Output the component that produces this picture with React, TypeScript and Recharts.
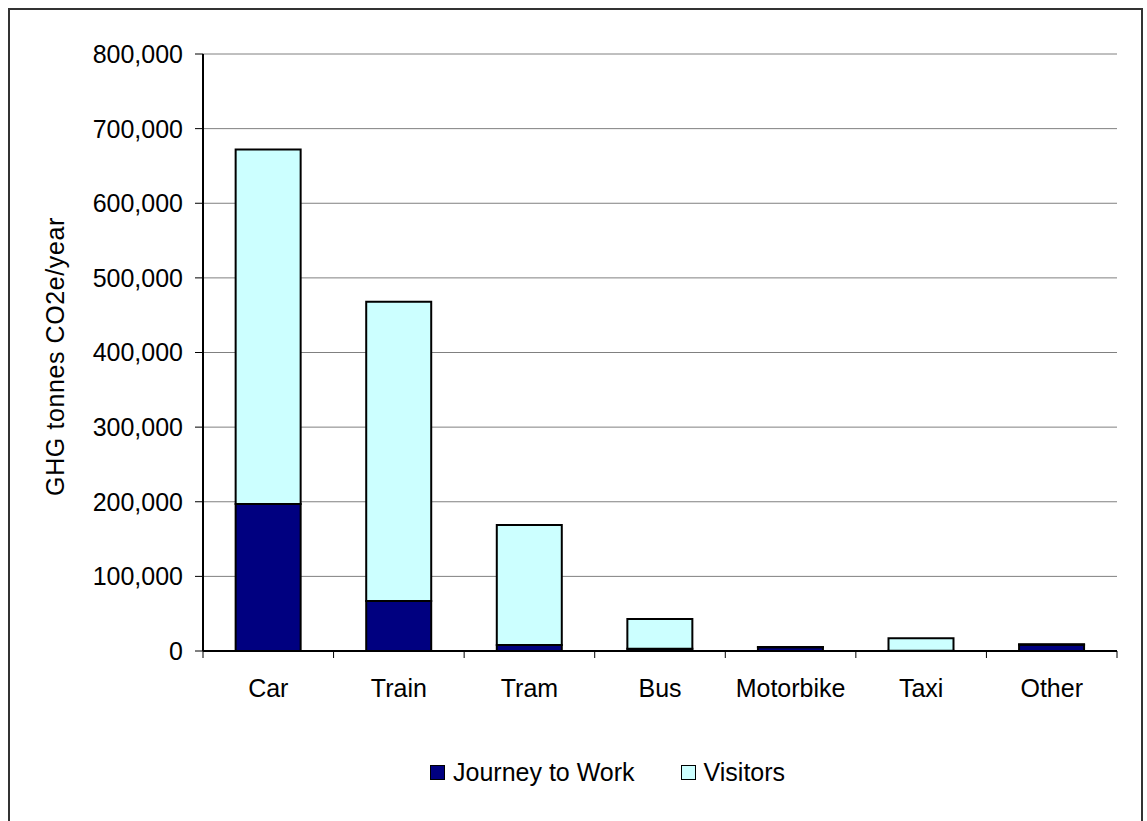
import { BarChart, Bar, XAxis, YAxis, CartesianGrid, Legend } from 'recharts';

const modes = ['Car', 'Train', 'Tram', 'Bus', 'Motorbike', 'Taxi', 'Other'];
const journeyToWork = [197000, 67000, 8000, 3000, 5000, 500, 8500];
const visitors = [475000, 401000, 161000, 40000, 500, 16500, 500];
const yTicks = [0, 100000, 200000, 300000, 400000, 500000, 600000, 700000, 800000];

const chartData = modes.map((mode, i) => ({
  mode,
  'Journey to Work': journeyToWork[i],
  Visitors: visitors[i],
}));

const FONT = '"Liberation Sans", Arial, sans-serif';
const CHART_W = 1127;
const CHART_H = 800;
const MARGIN = { top: 44, right: 20, left: 0, bottom: 23 };
const Y_AXIS_W = 193;
const BAND = (CHART_W - MARGIN.right - Y_AXIS_W) / modes.length;

const fmt = (v: number) => v.toLocaleString('en-US');

// category label at band centre, tick marks on the band edges
const ModeTick = (props: any) => {
  const { x, y, payload, index } = props;
  const half = payload && payload.offset ? payload.offset : BAND / 2;
  const last = index === modes.length - 1;
  return (
    <g>
      <line x1={x - half} x2={x - half} y1={y} y2={y + 7} stroke="#000" strokeWidth={1} />
      {last && <line x1={x + half} x2={x + half} y1={y} y2={y + 7} stroke="#000" strokeWidth={1} />}
      <text x={x} y={y + 46} textAnchor="middle" fontSize={25} fontFamily={FONT} fill="#000">
        {payload.value}
      </text>
    </g>
  );
};

const YTitle = (props: any) => {
  const vb = props.viewBox || { x: 0, y: 0, height: 0 };
  const cx = vb.x + 45;
  const cy = vb.y + vb.height / 2 + 4;
  return (
    <text
      x={cx}
      y={cy}
      transform={`rotate(-90 ${cx} ${cy})`}
      textAnchor="middle"
      dominantBaseline="central"
      fontSize={25}
      letterSpacing={0.6}
      fontFamily={FONT}
      fill="#000"
    >
      GHG tonnes  CO2e/year
    </text>
  );
};

const legendItems = [
  { name: 'Journey to Work', color: '#000080' },
  { name: 'Visitors', color: '#CCFFFF' },
];

const LegendBox = () => (
  <div
    style={{
      height: 30,
      display: 'flex',
      alignItems: 'center',
      paddingLeft: 420,
      fontFamily: FONT,
      fontSize: 25,
      color: '#000',
    }}
  >
    {legendItems.map((item, i) => (
      <div key={item.name} style={{ display: 'flex', alignItems: 'center', marginRight: i === 0 ? 46 : 0 }}>
        <span
          style={{
            width: 13,
            height: 13,
            background: item.color,
            border: '1px solid #000',
            marginRight: 8,
            display: 'inline-block',
          }}
        />
        <span style={{ lineHeight: '30px' }}>{item.name}</span>
      </div>
    ))}
  </div>
);

export default function App() {
  return (
    <div
      style={{
        position: 'fixed',
        left: 8,
        top: 8,
        width: 1131,
        height: 840,
        borderLeft: '2px solid #333',
        borderTop: '2px solid #333',
        borderRight: '2px solid #333',
        background: '#fff',
      }}
    >
      <BarChart width={CHART_W} height={CHART_H} data={chartData} margin={MARGIN} barCategoryGap="25%">
        <CartesianGrid horizontal vertical={false} stroke="#808080" strokeWidth={1} />
        <XAxis
          dataKey="mode"
          height={106}
          axisLine={{ stroke: '#000', strokeWidth: 2 }}
          tickLine={false}
          tickSize={0}
          tickMargin={0}
          tick={<ModeTick />}
          interval={0}
        />
        <XAxis
          xAxisId="top"
          dataKey="mode"
          orientation="top"
          height={0}
          tick={false}
          tickLine={false}
          axisLine={{ stroke: '#000', strokeWidth: 1.5 }}
        />
        <YAxis
          width={Y_AXIS_W}
          domain={[0, 800000]}
          ticks={yTicks}
          tickFormatter={fmt}
          interval={0}
          tickSize={8}
          tickMargin={12}
          axisLine={{ stroke: '#000', strokeWidth: 2 }}
          tickLine={{ stroke: '#000', strokeWidth: 1 }}
          tick={{ fontSize: 25, fontFamily: FONT, fill: '#000' }}
          label={<YTitle />}
        />
        <YAxis
          yAxisId="right"
          orientation="right"
          width={0}
          domain={[0, 800000]}
          tick={false}
          tickLine={false}
          axisLine={{ stroke: '#000', strokeWidth: 1.5 }}
        />
        <Legend verticalAlign="bottom" wrapperStyle={{ left: 0, width: CHART_W }} content={<LegendBox />} />
        <Bar dataKey="Journey to Work" stackId="a" fill="#000080" stroke="#000" strokeWidth={2} isAnimationActive={false} />
        <Bar dataKey="Visitors" stackId="a" fill="#CCFFFF" stroke="#000" strokeWidth={2} isAnimationActive={false} />
      </BarChart>
    </div>
  );
}
